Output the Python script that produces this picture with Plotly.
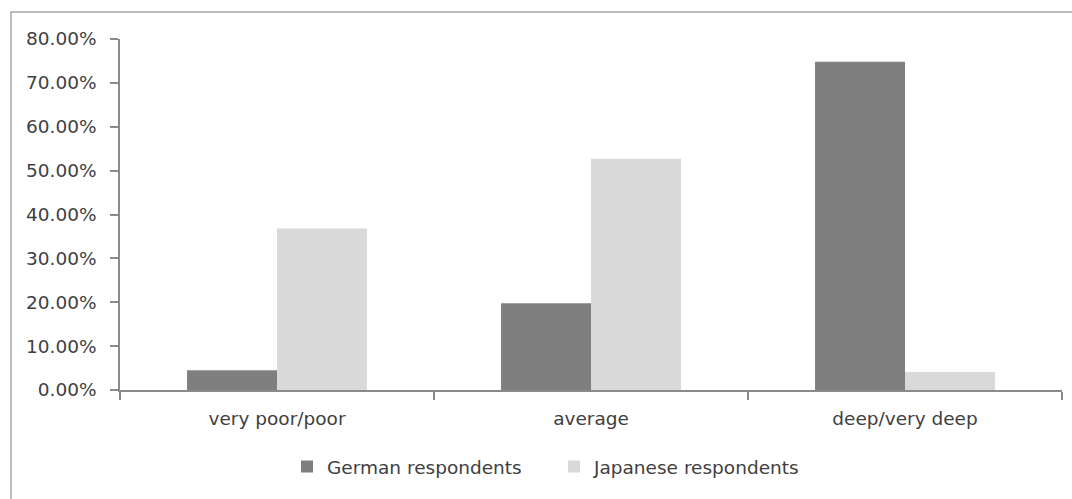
import plotly.graph_objects as go

# Survey shares per knowledge level
categories = ["very poor/poor", "average", "deep/very deep"]
german = [0.045, 0.198, 0.748]
japanese = [0.368, 0.527, 0.041]
y_ticks = [0.0, 0.1, 0.2, 0.3, 0.4, 0.5, 0.6, 0.7, 0.8]

W, H = 1072, 499
L, R, T, B = 120, 10, 39, 109
pw, ph = W - L - R, H - T - B

axis_col = "#8a8a8a"
text_col = "#404040"
font = dict(family="DejaVu Sans", size=18.5, color=text_col)

fig = go.Figure()
fig.add_trace(go.Bar(name="German respondents", x=categories, y=german,
                     marker=dict(color="#7f7f7f", line=dict(width=0))))
fig.add_trace(go.Bar(name="Japanese respondents", x=categories, y=japanese,
                     marker=dict(color="#d9d9d9", line=dict(width=0))))

# chart frame (extends past the right and bottom edges of the page)
fig.add_shape(type="rect", xref="paper", yref="paper", layer="below",
              x0=(11 - L) / pw, x1=(W + 20 - L) / pw,
              y0=-(B + 20) / ph, y1=1 + (T - 12) / ph,
              line=dict(color="#a6a6a6", width=1.5), fillcolor="rgba(0,0,0,0)")

fig.update_layout(
    width=W, height=H,
    margin=dict(l=L, r=R, t=T, b=B, pad=0),
    paper_bgcolor="white", plot_bgcolor="white",
    font=font,
    barmode="group", bargap=0.427, bargroupgap=0,
    showlegend=True,
    legend=dict(orientation="h", x=(287 - L) / pw, xanchor="left",
                y=-(467 - (H - B)) / ph, yanchor="middle",
                font=font, itemwidth=30, tracegroupgap=0,
                entrywidth=222, entrywidthmode="pixels"),
    xaxis=dict(type="category", showgrid=False, zeroline=False,
               showline=True, linecolor=axis_col, linewidth=1.5,
               ticks="outside", tickson="boundaries", ticklen=8,
               tickcolor=axis_col, tickwidth=1.5,
               ticklabelstandoff=11, tickfont=font, fixedrange=True),
    yaxis=dict(range=[0, 0.8], showgrid=False, zeroline=False,
               showline=True, linecolor=axis_col, linewidth=1.5,
               ticks="outside", ticklen=8, tickcolor=axis_col, tickwidth=1.5,
               tickvals=y_ticks, tickformat=".2%", ticklabelstandoff=10,
               tickfont=font, fixedrange=True),
)

fig.write_html("out.html", config={"displayModeBar": False})
